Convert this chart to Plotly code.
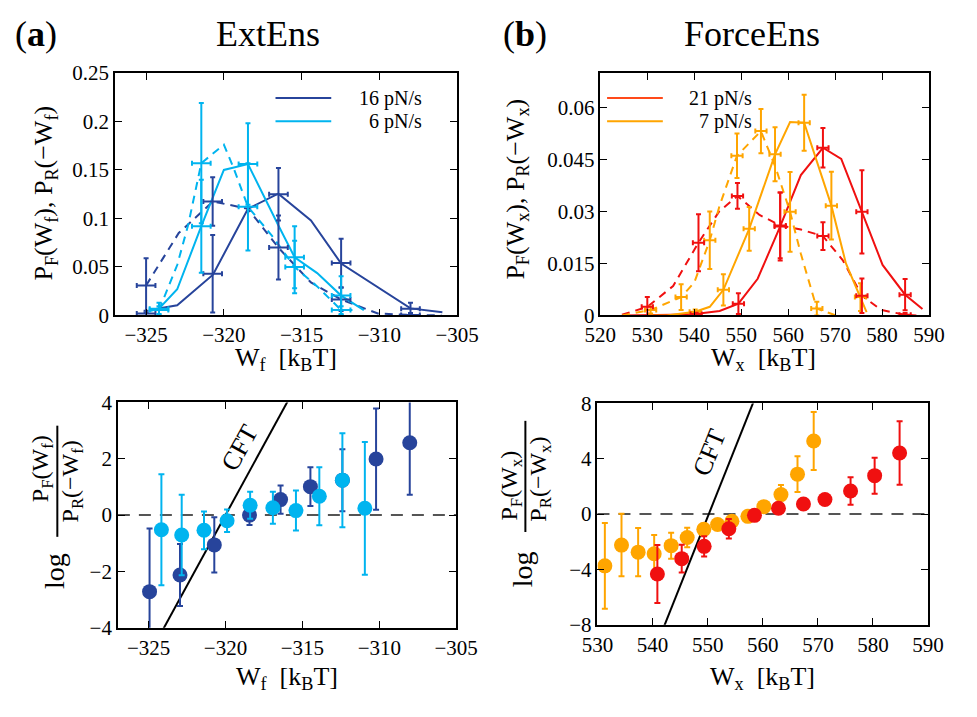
import plotly.graph_objects as go

W, H = 977, 717
FONT = "Liberation Serif"

DARK = "#27449b"
LIGHT = "#00b4ef"
RED = "#f01010"
ORANGE = "#ffa500"

# ---------------- Panel (a) top: ExtEns distributions ----------------
a16_fwd_x = [-324.75, -323.0, -320.7, -318.45, -316.5, -314.4, -312.46, -310.1, -308.0, -305.95]
a16_fwd_y = [0.0056, 0.0106, 0.042, 0.110, 0.1255, 0.098, 0.0536, 0.0288, 0.0073, 0.0033]
a16_rev_x = [-325.0, -322.9, -320.7, -318.45, -316.5, -314.4, -312.46, -310.1, -308.0, -306.0]
a16_rev_y = [0.031, 0.085, 0.1175, 0.110, 0.070, 0.034, 0.0165, 0.002, 0.0006, 0.0]
a16_fwd_ex = [-325.0, -320.72, -316.49, -312.46, -308.0]
a16_fwd_ey = [0.002, 0.043, 0.125, 0.054, 0.007]
a16_fwd_ee = [0.003, 0.040, 0.027, 0.025, 0.006]
a16_rev_ex = [-325.0, -320.72, -316.49, -312.46, -308.0]
a16_rev_ey = [0.031, 0.1175, 0.070, 0.0165, 0.0006]
a16_rev_ee = [0.028, 0.025, 0.033, 0.012, 0.002]

a6_fwd_x = [-324.75, -324.17, -323.0, -321.45, -320.0, -318.45, -316.5, -315.45, -314.0, -312.46, -311.0]
a6_fwd_y = [0.0046, 0.007, 0.027, 0.092, 0.150, 0.156, 0.093, 0.060, 0.0437, 0.0205, 0.0056]
a6_rev_x = [-324.17, -323.0, -322.3, -321.45, -320.0, -319.4, -318.45, -316.9, -315.45, -314.0, -312.46, -311.7]
a6_rev_y = [0.0056, 0.052, 0.093, 0.157, 0.176, 0.153, 0.112, 0.082, 0.050, 0.030, 0.0056, 0.0056]
a6_fwd_ex = [-324.17, -321.45, -318.45, -315.45, -312.46]
a6_fwd_ey = [0.007, 0.092, 0.156, 0.060, 0.0205]
a6_fwd_ee = [0.006, 0.048, 0.042, 0.032, 0.020]
a6_rev_ex = [-324.17, -321.45, -318.45, -315.45, -312.46]
a6_rev_ey = [0.0056, 0.157, 0.112, 0.050, 0.0056]
a6_rev_ee = [0.004, 0.062, 0.045, 0.027, 0.004]
a_xerr = 0.6

# ---------------- Panel (b) top: ForceEns distributions ----------------
b21_fwd_x = [524.6, 530.0, 535.5, 540.2, 545.4, 549.4, 553.5, 558.3, 562.7, 567.4, 571.3, 575.7, 580.1, 584.9, 588.6]
b21_fwd_y = [0.0, 0.0, 0.0002, 0.0004, 0.0013, 0.0034, 0.0106, 0.0257, 0.0405, 0.0484, 0.0452, 0.0299, 0.0146, 0.0060, 0.0019]
b21_rev_x = [524.6, 530.0, 535.5, 540.9, 545.3, 549.2, 553.9, 558.3, 562.7, 567.4, 571.6, 575.7, 579.8, 584.9, 587.3]
b21_rev_y = [0.0002, 0.0025, 0.0085, 0.021, 0.030, 0.0345, 0.029, 0.026, 0.0248, 0.0229, 0.016, 0.0057, 0.0016, 0.0002, 0.0]
b21_fwd_ex = [540.4, 549.4, 558.3, 567.4, 575.7, 584.9]
b21_fwd_ey = [0.0004, 0.0034, 0.0257, 0.0484, 0.0299, 0.0060]
b21_fwd_ee = [0.0004, 0.003, 0.0098, 0.0057, 0.012, 0.0045]
b21_rev_ex = [530.0, 540.9, 549.2, 558.3, 567.4, 575.7, 584.9]
b21_rev_ey = [0.0025, 0.021, 0.0345, 0.026, 0.0229, 0.0057, 0.0002]
b21_rev_ee = [0.0028, 0.0082, 0.0037, 0.0095, 0.004, 0.005, 0.0005]

b7_fwd_x = [530.0, 534.1, 540.2, 543.3, 546.2, 551.7, 557.2, 560.4, 563.4, 569.2, 572.3, 575.4, 576.7]
b7_fwd_y = [0.0, 0.0, 0.0011, 0.0025, 0.0074, 0.025, 0.0465, 0.0558, 0.0556, 0.0317, 0.015, 0.0053, 0.001]
b7_rev_x = [524.6, 530.7, 537.2, 540.0, 543.3, 545.4, 549.1, 554.2, 557.3, 560.4, 562.7, 566.1, 570.2]
b7_rev_y = [0.0, 0.0016, 0.0053, 0.0095, 0.0217, 0.0317, 0.0461, 0.0532, 0.0428, 0.0299, 0.0178, 0.002, 0.0]
b7_fwd_ex = [540.2, 546.2, 551.7, 557.2, 563.4, 569.2, 575.4]
b7_fwd_ey = [0.0011, 0.0074, 0.025, 0.0465, 0.0556, 0.0317, 0.0053]
b7_fwd_ee = [0.0006, 0.0045, 0.0063, 0.0078, 0.0081, 0.0098, 0.004]
b7_rev_ex = [530.7, 537.2, 543.3, 549.1, 554.2, 560.4, 566.1]
b7_rev_ey = [0.0016, 0.0053, 0.0217, 0.0461, 0.0532, 0.0299, 0.002]
b7_rev_ee = [0.001, 0.0037, 0.0083, 0.0064, 0.0064, 0.0115, 0.002]
b_xerr = 1.2

# ---------------- Bottom panels: log ratios ----------------
c16_x = [-324.94, -322.96, -320.73, -318.44, -316.42, -314.48, -312.4, -310.21, -308.02]
c16_y = [-2.72, -2.13, -1.06, 0.0, 0.55, 1.01, 1.24, 1.99, 2.57]
c16_e = [2.24, 1.10, 0.98, 0.35, 0.5, 0.69, 1.1, 1.8, 1.85]
c6_x = [-324.17, -322.85, -321.4, -319.9, -318.4, -316.92, -315.42, -313.9, -312.4, -310.94]
c6_y = [-0.52, -0.71, -0.54, -0.2, 0.35, 0.26, 0.16, 0.67, 1.24, 0.24]
c6_e = [1.97, 1.43, 0.67, 0.4, 0.48, 0.57, 0.71, 1.03, 1.67, 2.36]
cft_dG_a = -320.0

d7_x = [531.34, 534.36, 537.38, 540.29, 543.37, 546.28, 549.3, 551.8, 554.4, 557.3, 560.2, 563.3, 566.3, 569.24]
d7_y = [-3.74, -2.24, -2.75, -2.87, -2.28, -1.69, -1.1, -0.75, -0.52, -0.16, 0.54, 1.41, 2.89, 5.29]
d7_e = [3.1, 2.26, 1.74, 1.36, 0.94, 0.7, 0.4, 0.3, 0.3, 0.2, 0.2, 0.7, 1.3, 2.1]
d21_x = [540.87, 545.29, 549.36, 553.84, 558.49, 562.85, 567.38, 571.28, 575.93, 580.3, 584.83]
d21_y = [-4.33, -3.22, -2.33, -1.06, -0.09, 0.42, 0.73, 1.06, 1.67, 2.78, 4.42]
d21_e = [2.1, 1.0, 0.73, 0.7, 0.2, 0.3, 0.3, 0.3, 1.0, 1.3, 2.3]
cft_dG_b = 550.2
cft_y = [-9.0, 9.0]

fig = go.Figure()


def line(x, y, color, dash, xa, ya):
    fig.add_trace(go.Scatter(x=x, y=y, mode="lines", xaxis=xa, yaxis=ya, showlegend=False,
                             line=dict(color=color, width=2, dash=dash)))


def cross(x, y, e, xe, color, xa, ya):
    fig.add_trace(go.Scatter(x=x, y=y, mode="markers", xaxis=xa, yaxis=ya, showlegend=False,
                             marker=dict(size=1, color=color),
                             error_y=dict(type="data", array=e, color=color, thickness=2, width=2.5),
                             error_x=dict(type="constant", value=xe, color=color, thickness=2, width=2.5)))


def dots(x, y, e, color, xa, ya):
    fig.add_trace(go.Scatter(x=x, y=y, mode="markers", xaxis=xa, yaxis=ya, showlegend=False,
                             marker=dict(size=15, color=color),
                             error_y=dict(type="data", array=e, color=color, thickness=2, width=3)))


DASH = "8px,6px"
# panel a top
line(a16_fwd_x, a16_fwd_y, DARK, "solid", "x", "y")
line(a16_rev_x, a16_rev_y, DARK, DASH, "x", "y")
line(a6_fwd_x, a6_fwd_y, LIGHT, "solid", "x", "y")
line(a6_rev_x, a6_rev_y, LIGHT, DASH, "x", "y")
cross(a16_fwd_ex, a16_fwd_ey, a16_fwd_ee, a_xerr, DARK, "x", "y")
cross(a16_rev_ex, a16_rev_ey, a16_rev_ee, a_xerr, DARK, "x", "y")
cross(a6_fwd_ex, a6_fwd_ey, a6_fwd_ee, a_xerr, LIGHT, "x", "y")
cross(a6_rev_ex, a6_rev_ey, a6_rev_ee, a_xerr, LIGHT, "x", "y")

# panel b top
line(b21_fwd_x, b21_fwd_y, RED, "solid", "x2", "y2")
line(b21_rev_x, b21_rev_y, RED, DASH, "x2", "y2")
line(b7_fwd_x, b7_fwd_y, ORANGE, "solid", "x2", "y2")
line(b7_rev_x, b7_rev_y, ORANGE, DASH, "x2", "y2")
cross(b7_fwd_ex, b7_fwd_ey, b7_fwd_ee, b_xerr, ORANGE, "x2", "y2")
cross(b7_rev_ex, b7_rev_ey, b7_rev_ee, b_xerr, ORANGE, "x2", "y2")
cross(b21_fwd_ex, b21_fwd_ey, b21_fwd_ee, b_xerr, RED, "x2", "y2")
cross(b21_rev_ex, b21_rev_ey, b21_rev_ee, b_xerr, RED, "x2", "y2")

# bottom a
line([y + cft_dG_a for y in cft_y], cft_y, "black", "solid", "x3", "y3")
dots(c16_x, c16_y, c16_e, DARK, "x3", "y3")
dots(c6_x, c6_y, c6_e, LIGHT, "x3", "y3")

# bottom b
line([y + cft_dG_b for y in cft_y], cft_y, "black", "solid", "x4", "y4")
dots(d7_x, d7_y, d7_e, ORANGE, "x4", "y4")
dots(d21_x, d21_y, d21_e, RED, "x4", "y4")


def axis(domain, rng, anchor, tickvals, ticktext=None):
    d = dict(domain=domain, range=rng, anchor=anchor, showline=True, linecolor="black",
             linewidth=1.5, mirror="ticks", ticks="inside", ticklen=7, tickwidth=1.3,
             tickcolor="black", showgrid=False, zeroline=False, tickvals=tickvals,
             tickfont=dict(family=FONT, size=21, color="black"))
    if ticktext is not None:
        d["ticktext"] = ticktext
    return d


top_y = [1 - 314 / H, 1 - 63 / H]
layout = dict(
    width=W, height=H, margin=dict(l=0, r=0, t=0, b=0),
    paper_bgcolor="white", plot_bgcolor="white", showlegend=False,
    font=dict(family=FONT, color="black"),
    xaxis=axis([103 / W, 459 / W], [-327, -305], "y", [-325, -320, -315, -310, -305]),
    yaxis=axis(top_y, [0, 0.25], "x", [0, 0.05, 0.1, 0.15, 0.2, 0.25],
               ["0", "0.05", "0.1", "0.15", "0.2", "0.25"]),
    xaxis2=axis([608 / W, 950 / W], [520, 590], "y2", [520, 530, 540, 550, 560, 570, 580, 590]),
    yaxis2=axis(top_y, [0, 0.07], "x2", [0, 0.015, 0.03, 0.045, 0.06],
                ["0", "0.015", "0.03", "0.045", "0.06"]),
    xaxis3=axis([106 / W, 458 / W], [-327, -305], "y3", [-325, -320, -315, -310, -305]),
    yaxis3=axis([1 - 637 / H, 1 - 404 / H], [-4, 4], "x3", [-4, -2, 0, 2, 4]),
    xaxis4=axis([605 / W, 949 / W], [530, 590], "y4", [530, 540, 550, 560, 570, 580, 590]),
    yaxis4=axis([1 - 634 / H, 1 - 405 / H], [-8, 8], "x4", [-8, -4, 0, 4, 8]),
)
fig.update_layout(**layout)

shapes = []
# zero dashed lines
for xr, yr in [("x3 domain", "y3"), ("x4 domain", "y4")]:
    shapes.append(dict(type="line", xref=xr, yref=yr, x0=0, x1=1, y0=0, y1=0,
                       line=dict(color="#555555", width=2, dash="12px,9px"), layer="below"))
# legend samples
for (x0, x1, yy, c) in [(270, 328, 89, DARK), (270, 328, 113, LIGHT),
                        (615, 673, 89, "#ff4a1a"), (615, 673, 113, ORANGE)]:
    shapes.append(dict(type="line", xref="paper", yref="paper", x0=x0 / W, x1=x1 / W,
                       y0=1 - yy / H, y1=1 - yy / H, line=dict(color=c, width=2)))


def vbar(x, y0, y1):
    shapes.append(dict(type="line", xref="paper", yref="paper", x0=x / W, x1=x / W,
                       y0=1 - y0 / H, y1=1 - y1 / H, line=dict(color="black", width=2)))


vbar(43, 428, 543)
vbar(530, 423, 538)
fig.update_layout(shapes=shapes)

ann = []


def txt(text, x, y, size, angle=0, xanchor="center", yanchor="middle"):
    ann.append(dict(text=text, x=x / W, y=1 - y / H, xref="paper", yref="paper", showarrow=False,
                    textangle=angle, xanchor=xanchor, yanchor=yanchor,
                    font=dict(family=FONT, size=size, color="black")))


# panel titles
txt("(<b>a</b>)", 21, 23, 36)
txt("ExtEns", 262, 23, 36)
txt("(<b>b</b>)", 530, 23, 36)
txt("ForceEns", 766, 23, 36)
# legends
txt("16 pN/s", 424, 89, 20, xanchor="right")
txt("6 pN/s", 424, 113, 20, xanchor="right")
txt("21 pN/s", 768, 89, 20, xanchor="right")
txt("7 pN/s", 768, 113, 20, xanchor="right")
# x axis titles
txt("W<sub>f</sub>  [k<sub>B</sub>T]", 281, 359, 26)
txt("W<sub>x</sub>  [k<sub>B</sub>T]", 778, 359, 26)
txt("W<sub>f</sub>  [k<sub>B</sub>T]", 282, 689, 26)
txt("W<sub>x</sub>  [k<sub>B</sub>T]", 777, 689, 26)
# y axis titles top
txt("P<sub>F</sub>(W<sub>f</sub>), P<sub>R</sub>(−W<sub>f</sub>)", 30, 187, 26, angle=-90)
txt("P<sub>F</sub>(W<sub>x</sub>), P<sub>R</sub>(−W<sub>x</sub>)", 521, 183, 26, angle=-90)
# y axis titles bottom (fractions)
txt("P<sub>F</sub>(W<sub>f</sub>)", 27, 472, 24, angle=-90)
txt("P<sub>R</sub>(−W<sub>f</sub>)", 58, 486, 24, angle=-90)
txt("log", 40, 578, 28, angle=-90)
txt("P<sub>F</sub>(W<sub>x</sub>)", 515, 490, 24, angle=-90)
txt("P<sub>R</sub>(−W<sub>x</sub>)", 545, 483, 24, angle=-90)
txt("log", 527, 577, 28, angle=-90)

# CFT labels
ann.append(dict(text="CFT", x=-319.06, y=2.39, xref="x3", yref="y3", showarrow=False,
                textangle=-61, font=dict(family=FONT, size=26, color="black")))
ann.append(dict(text="CFT", x=550.35, y=4.42, xref="x4", yref="y4", showarrow=False,
                textangle=-68, font=dict(family=FONT, size=26, color="black")))
fig.update_layout(annotations=ann)

fig.write_html("out.html")
